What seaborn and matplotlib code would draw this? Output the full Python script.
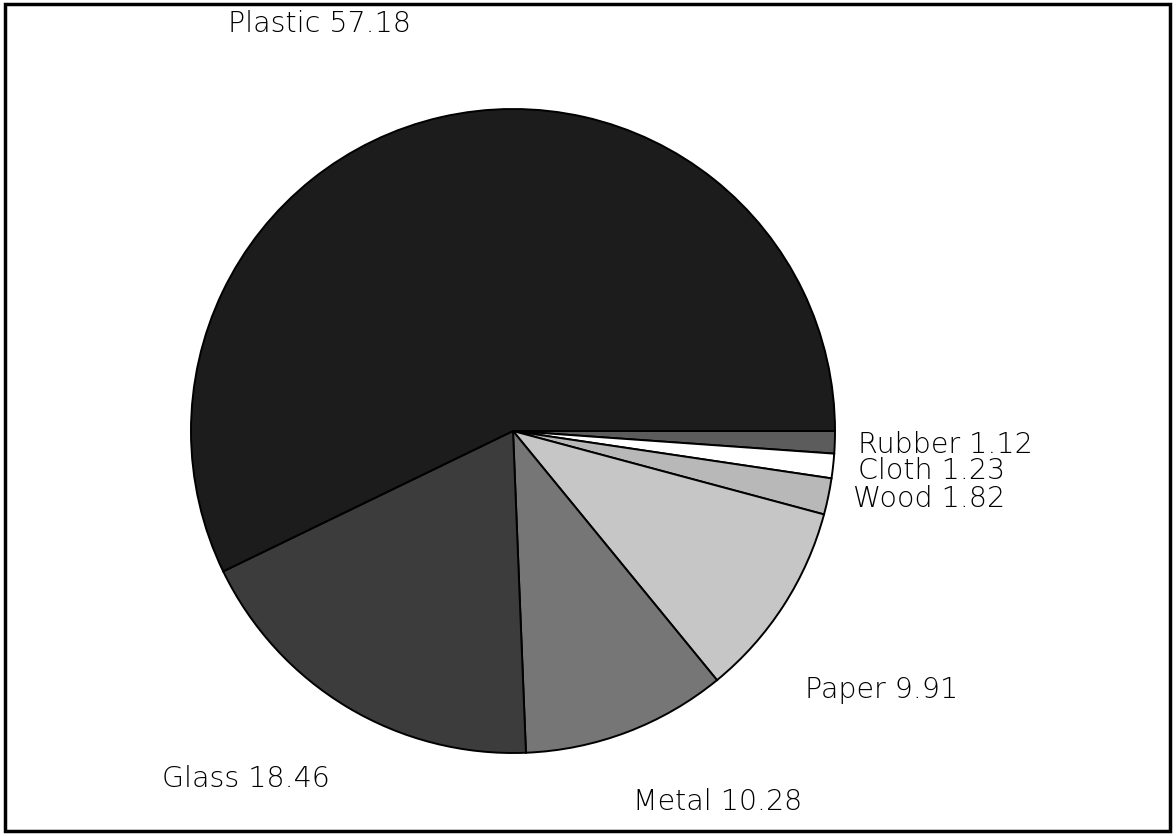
import matplotlib
matplotlib.use("Agg")
import matplotlib.pyplot as plt
import seaborn as sns
from matplotlib.patches import Rectangle

# material shares (percent), drawn clockwise from 3 o'clock
materials = ["Rubber", "Cloth", "Wood", "Paper", "Metal", "Glass", "Plastic"]
shares = [1.12, 1.23, 1.82, 9.91, 10.28, 18.46, 57.18]
greys = ["#5c5c5c", "#ffffff", "#b8b8b8", "#c6c6c6", "#767676", "#3c3c3c", "#1c1c1c"]

# label anchor points (left edge, vertical centre) in pixel space
label_x = [858, 858, 853, 805, 633, 162, 228]
label_y = [442, 468, 496, 687, 799, 776, 21]

W, H = 1176, 837

sns.set_style("white")
plt.rcParams["font.family"] = ["DejaVu Sans"]

fig = plt.figure(figsize=(W / 100, H / 100), dpi=100)
ax = fig.add_axes([0, 0, 1, 1])

ax.pie(shares, colors=greys, startangle=0, counterclock=False,
       center=(513, H - 432), radius=322,
       wedgeprops=dict(edgecolor="black", linewidth=1.4))

for name, val, x, y in zip(materials, shares, label_x, label_y):
    ax.text(x, H - y, f"{name} {val:.2f}", fontsize=20.5, color="black",
            ha="left", va="center_baseline", fontweight="light")

# outer frame
ax.add_patch(Rectangle((5, 5), W - 11, H - 10, fill=False,
                       edgecolor="black", linewidth=2.5))

ax.set_xlim(0, W)
ax.set_ylim(0, H)
ax.set_aspect("equal")
ax.axis("off")

fig.savefig("out.png", dpi=100, facecolor="white")
